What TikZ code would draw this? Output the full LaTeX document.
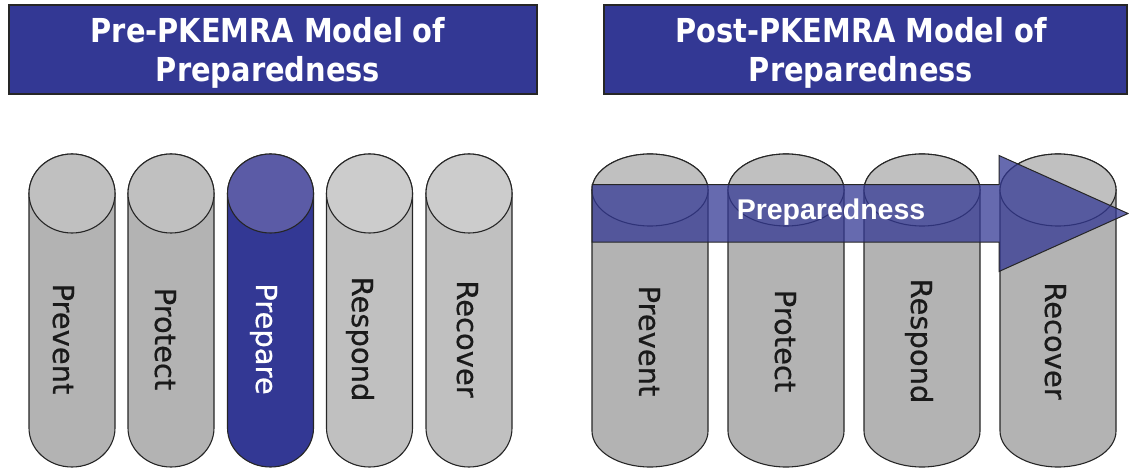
\documentclass[tikz,border=0pt]{standalone}
\usepackage{fontspec}
\setmainfont{DejaVu Sans}
\newfontfamily\titlefont{DejaVu Sans}[FakeStretch=0.875]
\newfontfamily\pillarfont{DejaVu Sans}[FakeBold=0.6]
\newfontfamily\arrowfont{Liberation Sans}
\definecolor{navy}{HTML}{333894}
\definecolor{navytop}{HTML}{5B5BA6}
\definecolor{gbody}{HTML}{B3B3B3}
\definecolor{gtop}{HTML}{C0C0C0}
\definecolor{lbody}{HTML}{C0C0C0}
\definecolor{ltop}{HTML}{CCCCCC}
\definecolor{txt}{HTML}{1A1A1A}
\newcommand{\cyl}[8]{%
  % #1 cx, #2 rx, #3 ytop, #4 ry top, #5 ybot, #6 ry bot, #7 body, #8 top
  \path[cylline, fill=#7] (#1-#2,#3) -- (#1-#2,#5)
     arc[start angle=180, end angle=360, x radius=#2, y radius=#6]
     -- (#1+#2,#3)
     arc[start angle=0, end angle=180, x radius=#2, y radius=#4] -- cycle;
  \path[cylline, fill=#8] (#1,#3) ellipse[x radius=#2, y radius=#4];
}
\tikzset{
  cylline/.style={draw=black!85, line width=1.1pt},
  titlebox/.style={draw=black!85, line width=1.6pt, fill=navy, inner sep=0pt},
  titletext/.style={text=white, align=center, inner sep=0pt,
    font=\titlefont\bfseries\fontsize{33}{39}\selectfont},
  pillar/.style={rotate=-90, anchor=base, inner sep=0pt, text=txt,
    font=\pillarfont\fontsize{29}{34}\selectfont},
  arrowbody/.style={draw=black!85, line width=1pt, fill=navy, fill opacity=0.75},
  arrowtext/.style={anchor=base, inner sep=0pt, text=white,
    font=\arrowfont\bfseries\fontsize{28.5}{34}\selectfont}
}
\begin{document}
\begin{tikzpicture}[x=1pt, y=1pt]
\useasboundingbox (0,0) rectangle (1129,468);
% title boxes
\node[titlebox, minimum width=528, minimum height=89] (t1) at (273,418.5) {};
\node[titlebox, minimum width=523, minimum height=89] (t2) at (865.5,418.5) {};
\node[titletext] (t1text) at (268,415) {Pre-PKEMRA Model of\\Preparedness};
\node[titletext] (t2text) at (861,415) {Post-PKEMRA Model of\\Preparedness};
% left cylinders
\cyl{72}{43}{274.5}{39.5}{40}{39}{gbody}{gtop}
\cyl{171}{43}{274.5}{39.5}{40}{39}{gbody}{gtop}
\cyl{270.5}{43}{274.5}{39.5}{40}{39}{navy}{navytop}
\cyl{369.5}{43}{274.5}{39.5}{40}{39}{lbody}{ltop}
\cyl{469}{43}{274.5}{39.5}{40}{39}{lbody}{ltop}
\node[pillar] (l1) at (53,129) {Prevent};
\node[pillar] (l2) at (155,129) {Protect};
\node[pillar, text=white] (l3) at (256,129) {Prepare};
\node[pillar] (l4) at (352,129) {Respond};
\node[pillar] (l5) at (457,129) {Recover};
% right cylinders
\cyl{650}{58}{278}{36}{37}{36}{gbody}{gtop}
\cyl{786}{58}{278}{36}{37}{36}{gbody}{gtop}
\cyl{922}{58}{278}{36}{37}{36}{gbody}{gtop}
\cyl{1058}{58}{278}{36}{37}{36}{gbody}{gtop}
% preparedness arrow
\path[arrowbody] (592,283.25) -- (999,283.25) -- (999,312.5) -- (1128,254.5)
   -- (999,196.5) -- (999,225.75) -- (592,225.75) -- cycle;
\node[arrowtext] (arr) at (831,248) {Preparedness};
\node[pillar] (r1) at (639,127) {Prevent};
\node[pillar] (r2) at (775,127) {Protect};
\node[pillar] (r3) at (911,127) {Respond};
\node[pillar] (r4) at (1045,127) {Recover};
\end{tikzpicture}
\end{document}
